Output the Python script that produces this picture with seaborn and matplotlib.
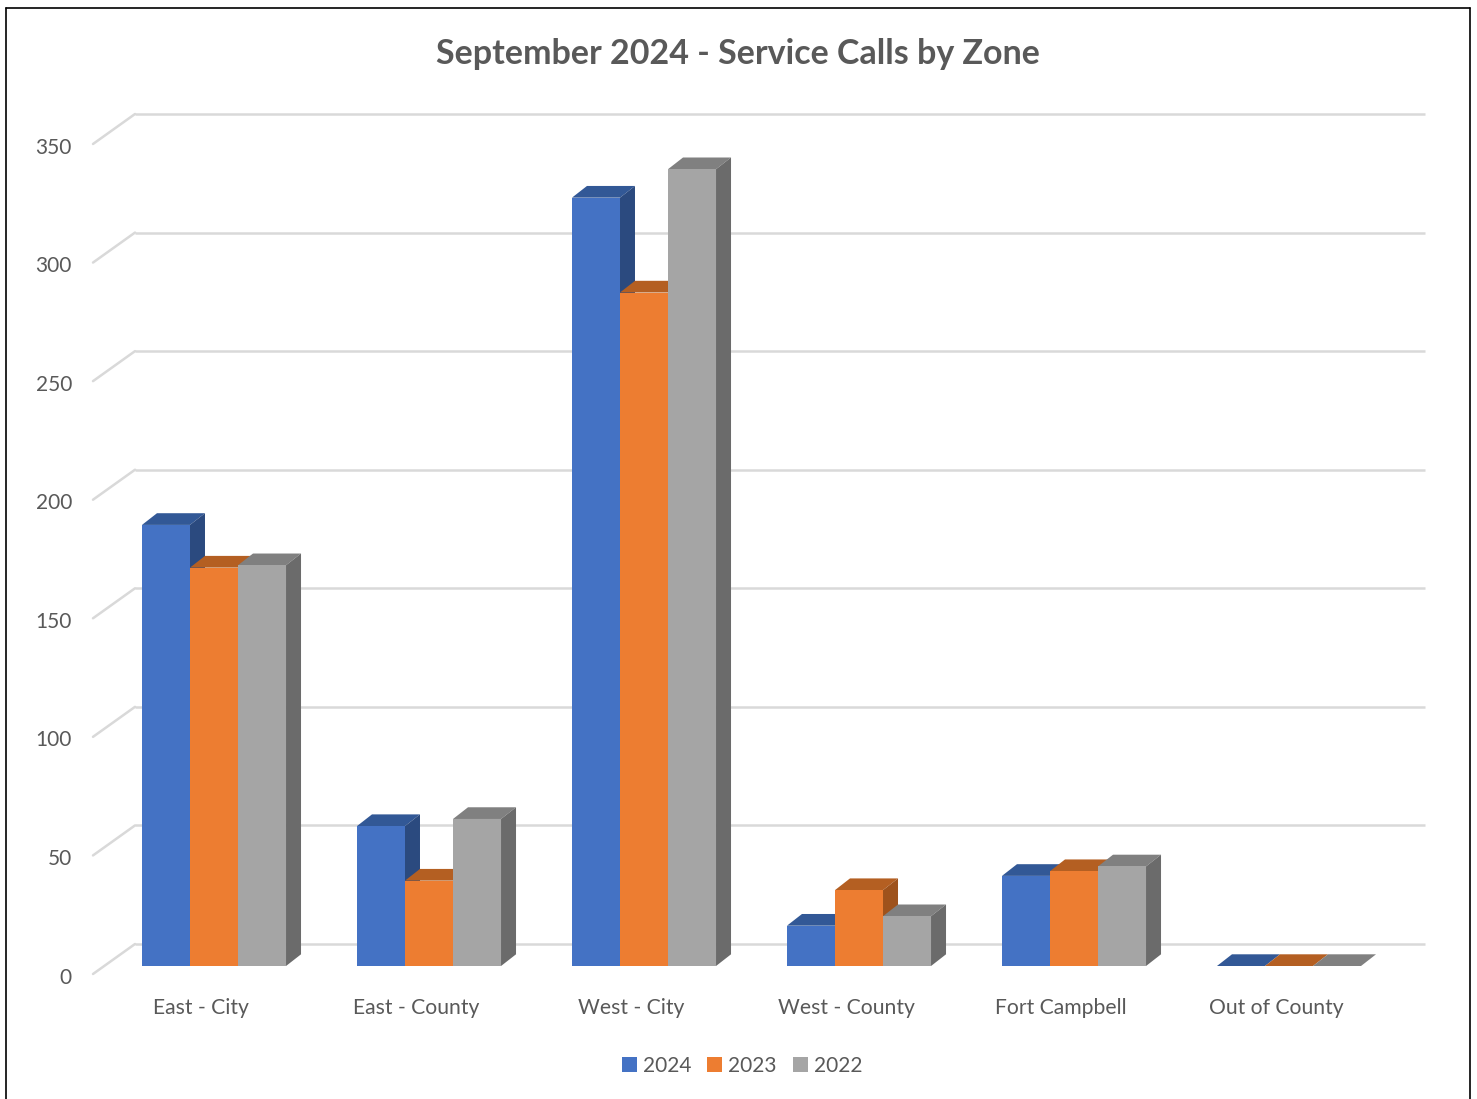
import numpy as np
import pandas as pd
import matplotlib
matplotlib.use("Agg")
import matplotlib.pyplot as plt
import seaborn as sns
from matplotlib.patches import Polygon, Patch
from matplotlib.lines import Line2D

# ---------------- data ----------------
zones = ["East - City", "East - County", "West - City", "West - County",
         "Fort Campbell", "Out of County"]
years = ["2024", "2023", "2022"]
calls_2024 = [186, 59, 324, 17, 38, 0]
calls_2023 = [168, 36, 284, 32, 40, 0]
calls_2022 = [169, 62, 336, 21, 42, 0]
y_ticks = [0, 50, 100, 150, 200, 250, 300, 350]

front_col = {"2024": "#4472C4", "2023": "#ED7D31", "2022": "#A5A5A5"}
top_col = {"2024": "#325896", "2023": "#B45F22", "2022": "#808080"}
side_col = {"2024": "#2B4A7F", "2023": "#9E521C", "2022": "#6B6B6B"}

df = pd.DataFrame({
    "zone": zones * 3,
    "year": ["2024"] * 6 + ["2023"] * 6 + ["2022"] * 6,
    "calls": calls_2024 + calls_2023 + calls_2022,
})

sns.set_theme(style="white")
plt.rcParams['font.family'] = ['Lato', 'DejaVu Sans']
txt_col = "#595959"
grid_col = "#D9D9D9"

W, H = 1477, 1099
fig = plt.figure(figsize=(W / 100, H / 100), dpi=100)
fig.patch.set_facecolor("white")
ax = fig.add_axes([106.5 / W, (H - 966) / H, 1290 / W, 830 / H])

sns.barplot(data=df, x="zone", y="calls", hue="year", order=zones,
            hue_order=years, palette=front_col, width=0.67, saturation=1,
            linewidth=0, legend=False, ax=ax)
ax.set_xlim(-0.5, 5.5)
ax.set_ylim(0, 350)
ax.set_axis_off()

# pixel -> data unit scales
p0 = ax.transData.transform((0, 0))
p1 = ax.transData.transform((1, 1))
sx = p1[0] - p0[0]
sy = p1[1] - p0[1]

# back-wall gridlines with perspective diagonals
bdx, bdy = 28.5 / sx, 22 / sy
fdx, fdy = -13.5 / sx, -8 / sy
for v in y_ticks:
    ax.plot([-0.5 + bdx, 5.5 + bdx], [v + bdy, v + bdy], color=grid_col,
            lw=1.8, zorder=1, clip_on=False, solid_capstyle="butt")
    ax.plot([-0.5 + fdx, -0.5 + bdx], [v + fdy, v + bdy], color=grid_col,
            lw=1.8, zorder=1, clip_on=False)
    ax.text(-0.5 - 34.5 / sx, v - 11.5 / sy, str(v), ha="right", va="center",
            fontsize=15, color=txt_col)

# 3D faces for bars
ddx, ddy = 15 / sx, 11.7 / sy
bars = []
for k, cont in enumerate(ax.containers):
    yr = years[k]
    for r in cont.patches:
        bars.append((r.get_x(), r, yr))
bars.sort(key=lambda t: t[0])
for i, (x0, r, yr) in enumerate(bars):
    z = 3 + i * 0.1
    w = r.get_width()
    h = r.get_height()
    r.set_zorder(z + 0.02)
    r.set_edgecolor("none")
    topf = Polygon([(x0, h), (x0 + w, h), (x0 + w + ddx, h + ddy), (x0 + ddx, h + ddy)],
                   closed=True, facecolor=top_col[yr], edgecolor="none", zorder=z,
                   clip_on=False)
    sidef = Polygon([(x0 + w, 0), (x0 + w, h), (x0 + w + ddx, h + ddy), (x0 + w + ddx, ddy)],
                    closed=True, facecolor=side_col[yr], edgecolor="none", zorder=z,
                    clip_on=False)
    ax.add_patch(topf)
    ax.add_patch(sidef)
    r.set_clip_on(False)

# category labels
for i, zname in enumerate(zones):
    ax.text(i - 13 / sx, -41.5 / sy, zname, ha="center", va="center",
            fontsize=15.2, color=txt_col)

# title
fig.text(737.5 / W, 1 - 54 / H, "September 2024 - Service Calls by Zone",
         ha="center", va="center", fontsize=24.5, fontweight="bold", color=txt_col)

# legend
handles = [Patch(facecolor=front_col[y], edgecolor="none") for y in years]
fig.legend(handles, years, loc="center", bbox_to_anchor=(742 / W, 1 - 1066 / H),
           ncol=3, frameon=False, handlelength=0.72, handleheight=0.72,
           handletextpad=0.3, columnspacing=0.75, fontsize=15, labelcolor=txt_col)

# outer border (left, top, right)
for xs, ys in [([6 / W, 6 / W], [0, 1 - 8 / H]),
               ([6 / W, 1470 / W], [1 - 8 / H, 1 - 8 / H]),
               ([1470 / W, 1470 / W], [0, 1 - 8 / H])]:
    fig.add_artist(Line2D(xs, ys, color="black", lw=1.2, transform=fig.transFigure))

fig.savefig("out.png", dpi=100, facecolor="white")
